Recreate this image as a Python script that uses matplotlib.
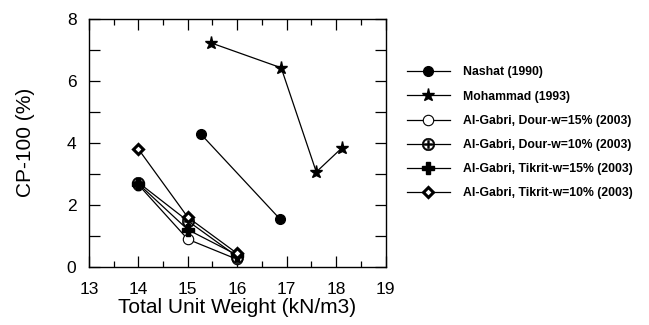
import matplotlib.pyplot as plt
from matplotlib.ticker import MultipleLocator

plt.rcParams['font.family'] = ['Liberation Sans', 'DejaVu Sans']

nashat_x = [15.26, 16.86]
nashat_y = [4.29, 1.55]
moh_x = [15.46, 16.89, 17.6, 18.12]
moh_y = [7.23, 6.42, 3.06, 3.84]
gabri_x = [14, 15, 16]
dour15_y = [2.65, 0.89, 0.24]
dour10_y = [2.72, 1.48, 0.33]
tik15_y = [2.68, 1.2, 0.38]
tik10_y = [3.8, 1.6, 0.43]

labels = ['Nashat (1990)', 'Mohammad (1993)', 'Al-Gabri, Dour-w=15% (2003)',
          'Al-Gabri, Dour-w=10% (2003)', 'Al-Gabri, Tikrit-w=15% (2003)',
          'Al-Gabri, Tikrit-w=10% (2003)']

fig = plt.figure(figsize=(6.49, 3.25), dpi=100)
ax = fig.add_axes([0.137, 0.179, 0.457, 0.763])

lw = 0.9
h1, = ax.plot(nashat_x, nashat_y, 'k-', lw=lw, marker='o', ms=7, mfc='k')
h2, = ax.plot(moh_x, moh_y, 'k-', lw=lw, marker='*', ms=9.5, mfc='k')
h3, = ax.plot(gabri_x, dour15_y, 'k-', lw=lw, marker='o', ms=7.5, mfc='white', mew=0.8)
h4, = ax.plot(gabri_x, dour10_y, 'k-', lw=lw, marker='$\\oplus$', ms=9, mew=0.4)
h5, = ax.plot(gabri_x, tik15_y, 'k-', lw=lw, marker='P', ms=8, mfc='k')
h6, = ax.plot(gabri_x, tik10_y, 'k-', lw=lw, marker='D', ms=5.5, mfc='white', mew=2.2)

ax.set_xlim(13, 19)
ax.set_ylim(0, 8)
ax.xaxis.set_major_locator(MultipleLocator(1))
ax.xaxis.set_minor_locator(MultipleLocator(0.5))
ax.yaxis.set_major_locator(MultipleLocator(2))
ax.yaxis.set_minor_locator(MultipleLocator(1))
ax.tick_params(which='both', direction='in', top=True, right=True, labelsize=12.5, width=0.9)
ax.tick_params(which='major', length=8)
ax.tick_params(axis='x', which='major', pad=11)
ax.tick_params(axis='y', which='major', pad=9)
ax.tick_params(axis='y', which='minor', length=8)
ax.tick_params(axis='x', which='minor', length=4)
for s in ax.spines.values():
    s.set_linewidth(1.0)

ax.set_xlabel('Total Unit Weight (kN/m3)', fontsize=15, labelpad=1)
ax.set_ylabel('CP-100 (%)', fontsize=15, labelpad=23)

fig.legend([h1, h2, h3, h4, h5, h6], labels, loc='center left',
           bbox_to_anchor=(0.627, 0.591), frameon=False, handlelength=3.5,
           borderaxespad=0, borderpad=0,
           labelspacing=1.0, handletextpad=1.05, prop={'weight': 'bold', 'size': 8.8})

fig.savefig('out.png', dpi=100)
